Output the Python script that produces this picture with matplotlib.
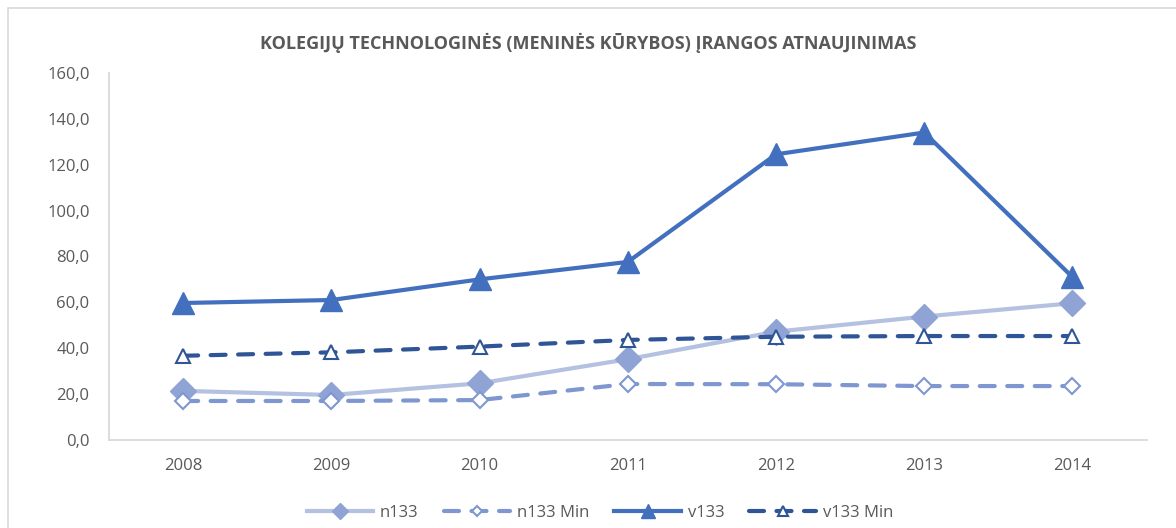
import numpy as np
import matplotlib
matplotlib.use("Agg")
import matplotlib.pyplot as plt
from matplotlib.patches import Rectangle

years = ["2008", "2009", "2010", "2011", "2012", "2013", "2014"]
n133 = [21.4, 19.6, 24.7, 35.2, 47.2, 53.8, 59.6]
n133_min = [17.0, 17.0, 17.4, 24.4, 24.3, 23.5, 23.5]
v133 = [59.7, 61.0, 70.0, 77.6, 124.5, 134.0, 71.0]
v133_min = [36.7, 38.2, 40.7, 43.6, 45.0, 45.3, 45.3]

title = "KOLEGIJŲ TECHNOLOGINĖS (MENINĖS KŪRYBOS) ĮRANGOS ATNAUJINIMAS"

plt.rcParams['font.family'] = ['Open Sans', 'DejaVu Sans']

fig = plt.figure(figsize=(11.76, 5.28), dpi=100)
# chart border (left and top edges visible, rest runs off the image)
fig.patches.append(Rectangle((8 / 1176, -0.1), 1.2, 1.1 - 8 / 528, transform=fig.transFigure,
                             fill=False, edgecolor="#d9d9d9", lw=1.2))
ax = fig.add_axes([0.0927, 0.1667, 0.8823, 0.6953])

x = np.arange(len(years))
dash = (0, (3.6, 3.0))

ax.plot(x, n133, color="#b4c1e1", lw=3, marker="D", ms=13,
        mfc="#8fa3d5", mec="#8fa3d5", label="n133", zorder=3)
ax.plot(x, n133_min, color="#7f97d0", lw=3, ls=dash, dash_capstyle="round",
        marker="D", ms=8, mfc="white", mec="#7f97d0", mew=1.5, label="n133 Min", zorder=3)
ax.plot(x, v133, color="#4270be", lw=3, marker="^", ms=16,
        mfc="#4270be", mec="#4270be", label="v133", zorder=4)
ax.plot(x, v133_min, color="#2f5597", lw=3, ls=dash, dash_capstyle="round",
        marker="^", ms=10, mfc="white", mec="#2f5597", mew=1.5, label="v133 Min", zorder=4)

ax.set_xlim(-0.5, len(years) - 0.5)
ax.set_ylim(0, 160)
ax.set_yticks(np.arange(0, 161, 20))
ax.set_yticklabels([f"{v:.1f}".replace(".", ",") for v in np.arange(0, 161, 20)])
ax.set_xticks(x)
ax.set_xticklabels(years)

for s in ["top", "right"]:
    ax.spines[s].set_visible(False)
for s in ["bottom", "left"]:
    ax.spines[s].set_color("#d9d9d9")
    ax.spines[s].set_linewidth(1.3)
ax.tick_params(axis="both", length=0, labelsize=12, colors="#595959")
ax.tick_params(axis="x", pad=13)
ax.tick_params(axis="y", pad=14)

fig.text(0.5, 0.918, title, ha="center", va="center", fontsize=13,
         fontweight="bold", color="#595959")

fig.legend(loc="lower center", bbox_to_anchor=(0.51, -0.015), ncol=4, frameon=False,
           fontsize=12, handlelength=4.0, columnspacing=1.5, handletextpad=0.4,
           markerscale=0.65, labelcolor="#595959")

fig.savefig("out.png", dpi=100)
